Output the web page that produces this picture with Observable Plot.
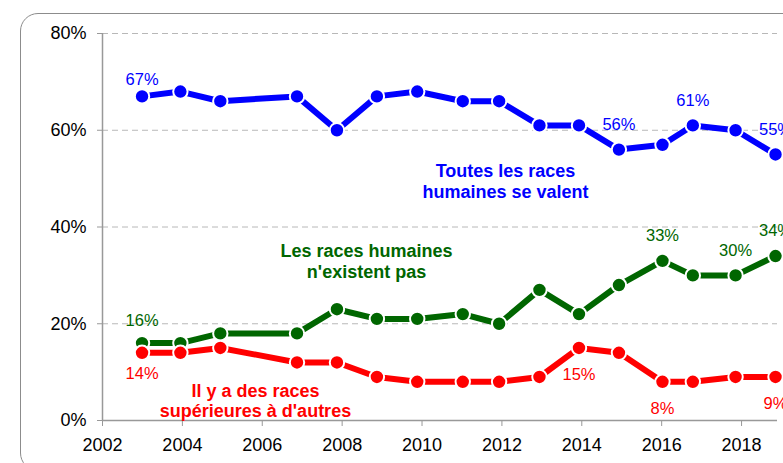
<!DOCTYPE html>
<html>
<head>
<meta charset="utf-8">
<script src="https://cdn.jsdelivr.net/npm/d3@7"></script>
<script src="https://cdn.jsdelivr.net/npm/@observablehq/plot@0.6"></script>
<style>
  html, body { margin: 0; padding: 0; background: white; overflow: hidden; }
  #wrap { position: relative; width: 783px; height: 463px; }
  #frame { position: absolute; left: 20px; top: 13px; width: 820px; height: 458px;
    border: 1.5px solid #8c8c8c; border-radius: 18px; box-sizing: border-box; pointer-events: none; z-index: 2; }
  #chart svg { overflow: hidden; }
</style>
</head>
<body>
<div id="wrap"><div id="chart"></div><div id="frame"></div></div>
<script>
// Survey dates (fractional year, as placed on the time axis)
const years = [2002.99, 2003.95, 2004.95, 2006.87, 2007.87, 2008.87, 2009.88, 2011.02, 2011.93, 2012.94, 2013.93, 2014.93, 2016.02, 2016.78, 2017.85, 2018.85];
// "Toutes les races humaines se valent"
const valent = [67, 68, 66, 67, 60, 67, 68, 66, 66, 61, 61, 56, 57, 61, 60, 55];
// "Les races humaines n'existent pas"
const nexistent = [16, 16, 18, 18, 23, 21, 21, 22, 20, 27, 22, 28, 33, 30, 30, 34];
// "Il y a des races supérieures à d'autres"
const superieures = [14, 14, 15, 12, 12, 9, 8, 8, 8, 9, 15, 14, 8, 8, 9, 9];

const seriesNames = ["Toutes les races\nhumaines se valent", "Les races humaines\nn'existent pas", "Il y a des races\nsupérieures à d'autres"];
const seriesColors = ["#0000ff", "#006600", "#ff0000"];
// indices of the points whose value is printed
const labelledIdx = [[0, 11, 13, 15], [0, 12, 14, 15], [0, 10, 12, 15]];
// annotation anchor points (year, %) for series names
const nameX = [2012.09, 2008.61, 2005.83];
const nameY = [49.5, 33.0, 4.13];

const xTicks = [2002, 2004, 2006, 2008, 2010, 2012, 2014, 2016, 2018];
const yTicks = [0, 20, 40, 60, 80];

const seriesValues = [valent, nexistent, superieures];
const data = seriesValues.flatMap((vals, s) => vals.map((v, i) => ({s, x: years[i], y: v, i})));

// label offsets (px): above for blue/green, below for red; first point slightly closer
const dyFor = (s, i) => {
  if (s === 2) return i === 0 ? 21 : 27;
  if (s === 0) return i === 0 ? -17 : -25;
  return i === 0 ? -22 : -25;
};

const labelMarks = [];
labelledIdx.forEach((idxs, s) => {
  idxs.forEach(i => {
    labelMarks.push(Plot.text([{x: years[i], y: seriesValues[s][i]}], {
      x: "x", y: "y", text: d => d.y + "%", dy: dyFor(s, i),
      fill: seriesColors[s], fontSize: 16.5, textAnchor: "middle"
    }));
  });
});

const lineMarks = [];
seriesValues.forEach((vals, s) => {
  const d = data.filter(p => p.s === s);
  lineMarks.push(Plot.line(d, {x: "x", y: "y", stroke: seriesColors[s], strokeWidth: 6}));
  lineMarks.push(Plot.dot(d, {x: "x", y: "y", r: 7.2, fill: seriesColors[s], stroke: "white", strokeWidth: 2}));
});

const nameMarks = seriesNames.map((t, s) => Plot.text([{x: nameX[s], y: nameY[s], t}], {
  x: "x", y: "y", text: "t", fill: seriesColors[s], fontWeight: "bold", fontSize: 18,
  lineHeight: 1.15, textAnchor: "middle"
}));

const chart = Plot.plot({
  width: 783,
  height: 463,
  marginLeft: 102,
  marginRight: 6,
  marginTop: 33,
  marginBottom: 43,
  style: {fontFamily: "'Liberation Sans', Arial, sans-serif", fontSize: "16px", background: "white"},
  x: {domain: [2002, 2018.9]},
  y: {domain: [0, 80]},
  marks: [
    Plot.gridY([20, 40, 60, 80], {stroke: "#b8b8b8", strokeOpacity: 1, strokeDasharray: "6,4", strokeWidth: 1}),
    Plot.ruleY([0], {stroke: "#999", strokeWidth: 1.5}),
    Plot.ruleX([2002], {stroke: "#999", strokeWidth: 1.5}),
    Plot.axisX({ticks: xTicks, tickFormat: d => String(d), tickSize: 6, tickPadding: 12, fontSize: 18, stroke: "#999", fill: "black", label: null}),
    Plot.axisY({ticks: yTicks, tickFormat: d => d + "%", tickSize: 5, tickPadding: 11, fontSize: 18, stroke: "#999", fill: "black", label: null}),
    ...lineMarks,
    ...labelMarks,
    ...nameMarks
  ]
});
document.getElementById("chart").appendChild(chart);
</script>
</body>
</html>
